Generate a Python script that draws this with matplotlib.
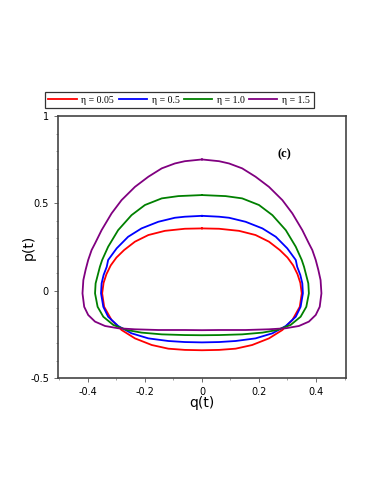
import matplotlib
matplotlib.use("Agg")
import matplotlib.pyplot as plt
from matplotlib.ticker import MultipleLocator

# orbits, going round from the top (q = 0) anticlockwise
q_p15 = [0, -0.060, -0.095, -0.141, -0.188, -0.235, -0.282, -0.317, -0.352, -0.375, -0.387, -0.399,
         -0.408, -0.416, -0.419, -0.413, -0.399, -0.375, -0.340, -0.294, -0.235, -0.153, -0.060, 0,
         0.060, 0.153, 0.235, 0.294, 0.340, 0.375, 0.399, 0.413, 0.419, 0.416, 0.408, 0.399,
         0.387, 0.375, 0.352, 0.317, 0.282, 0.235, 0.188, 0.141, 0.095, 0.060, 0]
p_p15 = [0.752, 0.742, 0.729, 0.701, 0.653, 0.595, 0.519, 0.443, 0.347, 0.271, 0.233, 0.176,
         0.120, 0.061, -0.015, -0.092, -0.139, -0.177, -0.202, -0.215, -0.221, -0.225, -0.225, -0.226,
         -0.225, -0.225, -0.221, -0.215, -0.202, -0.177, -0.139, -0.092, -0.015, 0.061, 0.120, 0.176,
         0.233, 0.271, 0.347, 0.443, 0.519, 0.595, 0.653, 0.701, 0.729, 0.742, 0.752]

q_p10 = [0, -0.083, -0.141, -0.200, -0.247, -0.294, -0.329, -0.350, -0.358, -0.373, -0.375, -0.366,
         -0.346, -0.311, -0.264, -0.212, -0.141, -0.060, 0,
         0.060, 0.141, 0.212, 0.264, 0.311, 0.346, 0.366, 0.375, 0.373, 0.358, 0.350, 0.329,
         0.294, 0.247, 0.200, 0.141, 0.083, 0]
p_p10 = [0.548, 0.542, 0.529, 0.491, 0.433, 0.347, 0.252, 0.176, 0.137, 0.042, -0.015, -0.092,
         -0.149, -0.196, -0.225, -0.240, -0.250, -0.254, -0.255,
         -0.254, -0.250, -0.240, -0.225, -0.196, -0.149, -0.092, -0.015, 0.042, 0.137, 0.176, 0.252,
         0.347, 0.433, 0.491, 0.529, 0.542, 0.548]

q_p05 = [0, -0.060, -0.095, -0.153, -0.212, -0.259, -0.299, -0.329, -0.334, -0.345, -0.352, -0.354,
         -0.346, -0.329, -0.294, -0.247, -0.188, -0.118, -0.060, 0,
         0.060, 0.118, 0.188, 0.247, 0.294, 0.329, 0.346, 0.354, 0.352, 0.345, 0.334, 0.329,
         0.299, 0.259, 0.212, 0.153, 0.095, 0.060, 0]
p_p05 = [0.429, 0.424, 0.418, 0.395, 0.357, 0.309, 0.243, 0.176, 0.137, 0.090, 0.042, -0.015,
         -0.092, -0.149, -0.202, -0.244, -0.273, -0.288, -0.294, -0.296,
         -0.294, -0.288, -0.273, -0.244, -0.202, -0.149, -0.092, -0.015, 0.042, 0.090, 0.137, 0.176,
         0.243, 0.309, 0.357, 0.395, 0.418, 0.424, 0.429]

q_p005 = [0, -0.060, -0.130, -0.188, -0.235, -0.273, -0.300, -0.320, -0.335, -0.345, -0.350, -0.343,
          -0.317, -0.282, -0.235, -0.176, -0.118, -0.060, 0,
          0.060, 0.118, 0.176, 0.235, 0.282, 0.317, 0.343, 0.350, 0.345, 0.335, 0.320, 0.300,
          0.273, 0.235, 0.188, 0.130, 0.060, 0]
p_p005 = [0.357, 0.355, 0.343, 0.319, 0.281, 0.233, 0.190, 0.145, 0.095, 0.045, -0.015, -0.092,
          -0.168, -0.225, -0.273, -0.311, -0.332, -0.339, -0.341,
          -0.339, -0.332, -0.311, -0.273, -0.225, -0.168, -0.092, -0.015, 0.045, 0.095, 0.145, 0.190,
          0.233, 0.281, 0.319, 0.343, 0.355, 0.357]

labels = ["η = 0.05", "η = 0.5", "η = 1.0", "η = 1.5"]
colors = ["red", "blue", "green", "purple"]

fig = plt.figure(figsize=(3.74, 4.84), dpi=100)
ax = fig.add_axes([0.155, 0.219, 0.770, 0.541])

curves = [(q_p005, p_p005), (q_p05, p_p05), (q_p10, p_p10), (q_p15, p_p15)]
for (q, p), lab, c in zip(curves, labels, colors):
    ax.plot(q, p, color=c, lw=1.3, label=lab, solid_joinstyle="round")

ax.set_xlim(-0.505, 0.505)
ax.set_ylim(-0.5, 1.0)
ax.set_xticks([-0.4, -0.2, 0, 0.2, 0.4])
ax.set_xticklabels(["-0.4", "-0.2", "0", "0.2", "0.4"])
ax.set_yticks([-0.5, 0, 0.5, 1])
ax.set_yticklabels(["-0.5", "0", "0.5", "1"])
ax.xaxis.set_minor_locator(MultipleLocator(0.1))
ax.yaxis.set_minor_locator(MultipleLocator(0.1))
ax.tick_params(which="major", length=3, width=0.6, labelsize=7, color="#555555")
ax.tick_params(which="minor", length=1.5, width=0.5, color="#777777")
for s in ax.spines.values():
    s.set_color("#444444")
    s.set_linewidth(1.2)

ax.set_xlabel("q(t)", fontsize=10)
ax.set_ylabel("p(t)", fontsize=10)
ax.xaxis.set_label_coords(0.5, -0.068)
ax.yaxis.set_label_coords(-0.076, 0.5)

ax.text(0.29, 0.78, "(c)", fontsize=9, family="Liberation Serif", fontweight="bold",
        ha="center", va="center")

leg = ax.legend(loc="lower left", bbox_to_anchor=(-0.045, 1.03), ncol=4, frameon=True,
                fancybox=False, edgecolor="black", handlelength=2.9,
                handletextpad=0.5, columnspacing=0.45, borderpad=0.35, borderaxespad=0,
                prop={"family": "Liberation Serif", "size": 7})
leg.get_frame().set_linewidth(0.9)

fig.savefig("out.png", dpi=100)
